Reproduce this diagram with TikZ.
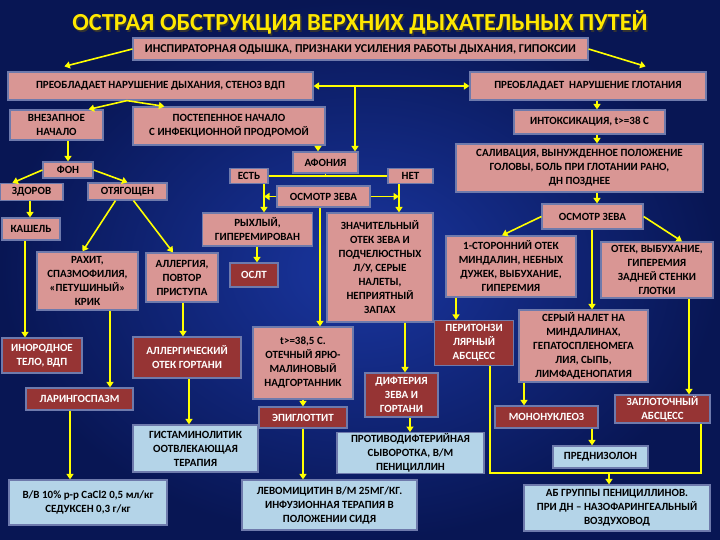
\documentclass[tikz,border=0pt]{standalone}
\usepackage{fontspec}
\setmainfont{Carlito}
\usetikzlibrary{arrows.meta,calc}

\definecolor{bgin}{RGB}{26,54,160}
\definecolor{bgout}{RGB}{8,22,84}
\definecolor{pinkc}{RGB}{217,150,148}
\definecolor{redc}{RGB}{150,52,52}
\definecolor{bluec}{RGB}{180,212,232}
\definecolor{bordc}{RGB}{110,122,172}
\definecolor{arrc}{RGB}{255,255,0}
\definecolor{titley}{RGB}{255,232,0}

\begin{document}
\begin{tikzpicture}[x=1pt,y=-1pt,
  box/.style={draw=bordc, line width=1.2pt, inner sep=1pt, align=center,
              font=\bfseries\fontsize{11}{14}\selectfont},
  pbox/.style={box, fill=pinkc, text=black},
  rbox/.style={box, fill=redc, text=white},
  bbox/.style={box, fill=bluec, text=black},
  ar/.style={draw=arrc, line width=1.6pt, -{Triangle[length=5.5pt,width=7pt]}},
  dar/.style={draw=arrc, line width=1.6pt, {Triangle[length=5.5pt,width=7pt]}-{Triangle[length=5.5pt,width=7pt]}},
  ln/.style={draw=arrc, line width=1.6pt},
]
\useasboundingbox (0,0) rectangle (720,540);
\shade[inner color=bgin, outer color=bgout] (0,0) rectangle (720,540);

% x positions of vertical connectors
\foreach \xx in {25,30,70,110,127,183,189,257,264,303,318,320,355,399,405,410,456,490,524,592,597,609,689,701}
  {\coordinate (v\xx) at (\xx,0);}

% title
\node[text=black!80, font=\bfseries\fontsize{24.5}{28}\selectfont] (titleshadow) at (361.5,24) {ОСТРАЯ ОБСТРУКЦИЯ ВЕРХНИХ ДЫХАТЕЛЬНЫХ ПУТЕЙ};
\node[text=titley, font=\bfseries\fontsize{24.5}{28}\selectfont] (title) at (360,22.5) {ОСТРАЯ ОБСТРУКЦИЯ ВЕРХНИХ ДЫХАТЕЛЬНЫХ ПУТЕЙ};

% top level
\node[pbox, minimum width=455pt, minimum height=22pt, font=\bfseries\fontsize{12}{14}\selectfont] (A) at (360.5,49) {ИНСПИРАТОРНАЯ ОДЫШКА, ПРИЗНАКИ УСИЛЕНИЯ РАБОТЫ ДЫХАНИЯ, ГИПОКСИИ};
\node[pbox, minimum width=305pt, minimum height=28pt] (B) at (160.5,86) {ПРЕОБЛАДАЕТ НАРУШЕНИЕ ДЫХАНИЯ, СТЕНОЗ ВДП};
\node[pbox, minimum width=236pt, minimum height=28pt] (C) at (588,86) {ПРЕОБЛАДАЕТ\ \ НАРУШЕНИЕ ГЛОТАНИЯ};

% left branch
\node[pbox, minimum width=93pt, minimum height=30pt] (vnezap) at (56.5,125) {ВНЕЗАПНОЕ\\НАЧАЛО};
\node[pbox, minimum width=192pt, minimum height=38pt] (postep) at (229,126) {ПОСТЕПЕННОЕ НАЧАЛО\\С ИНФЕКЦИОННОЙ ПРОДРОМОЙ};
\node[pbox, minimum width=50pt, minimum height=16pt] (fon) at (68,170) {ФОН};
\node[pbox, minimum width=63pt, minimum height=17pt] (zdorov) at (31.5,192) {ЗДОРОВ};
\node[pbox, minimum width=79pt, minimum height=17pt] (otyag) at (127.5,191.5) {ОТЯГОЩЕН};
\node[pbox, minimum width=58pt, minimum height=22pt] (kashel) at (31,229) {КАШЕЛЬ};
\node[pbox, minimum width=101pt, minimum height=58pt] (rahit) at (87.5,281) {РАХИТ,\\СПАЗМОФИЛИЯ,\\«ПЕТУШИНЫЙ»\\КРИК};
\node[pbox, minimum width=72pt, minimum height=49pt] (allerg) at (182,277.5) {АЛЛЕРГИЯ,\\ПОВТОР\\ПРИСТУПА};
\node[rbox, minimum width=80pt, minimum height=35pt] (inorod) at (42,355.5) {ИНОРОДНОЕ\\ТЕЛО, ВДП};
\node[rbox, minimum width=108pt, minimum height=41pt] (allotek) at (187,357.5) {АЛЛЕРГИЧЕСКИЙ\\ОТЕК ГОРТАНИ};
\node[rbox, minimum width=107pt, minimum height=22pt] (laring) at (79.5,399) {ЛАРИНГОСПАЗМ};
\node[bbox, minimum width=125pt, minimum height=47pt] (gistam) at (195.5,448.5) {ГИСТАМИНОЛИТИК\\ООТВЛЕКАЮЩАЯ\\ТЕРАПИЯ};
\node[bbox, minimum width=158pt, minimum height=45pt] (vv) at (88,502.5) {В/В 10\% р-р CaCl2 0,5 мл/кг\\СЕДУКСЕН 0,3 г/кг};

% middle branch
\node[pbox, minimum width=65pt, minimum height=21pt] (afon) at (325.5,162.5) {АФОНИЯ};
\node[pbox, minimum width=38pt, minimum height=15pt] (est) at (249,176) {ЕСТЬ};
\node[pbox, minimum width=45pt, minimum height=15pt] (net) at (410.5,176) {НЕТ};
\node[pbox, minimum width=93pt, minimum height=21pt] (osm1) at (323.5,196.5) {ОСМОТР ЗЕВА};
\node[pbox, minimum width=110pt, minimum height=33pt] (ryhl) at (257.5,229.5) {РЫХЛЫЙ,\\ГИПЕРЕМИРОВАН};
\node[rbox, minimum width=48pt, minimum height=24pt] (oslt) at (254,275) {ОСЛТ};
\node[pbox, minimum width=106pt, minimum height=109pt] (znach) at (380,267.5) {ЗНАЧИТЕЛЬНЫЙ\\ОТЕК ЗЕВА И\\ПОДЧЕЛЮСТНЫХ\\Л/У, СЕРЫЕ\\НАЛЕТЫ,\\НЕПРИЯТНЫЙ\\ЗАПАХ};
\node[pbox, minimum width=100pt, minimum height=72pt] (temp) at (303,363) {t>=38,5 С.\\ОТЕЧНЫЙ ЯРЮ-\\МАЛИНОВЫЙ\\НАДГОРТАННИК};
\node[rbox, minimum width=88pt, minimum height=21pt] (epig) at (303,417.5) {ЭПИГЛОТТИТ};
\node[rbox, minimum width=73pt, minimum height=44pt] (difter) at (401.5,395) {ДИФТЕРИЯ\\ЗЕВА И\\ГОРТАНИ};
\node[bbox, minimum width=147pt, minimum height=40pt] (protiv) at (410.5,453) {ПРОТИВОДИФТЕРИЙНАЯ\\СЫВОРОТКА, В/М\\ПЕНИЦИЛЛИН};
\node[bbox, minimum width=175pt, minimum height=50pt] (levom) at (329.5,505) {ЛЕВОМИЦИТИН В/М 25МГ/КГ.\\ИНФУЗИОННАЯ ТЕРАПИЯ В\\ПОЛОЖЕНИИ СИДЯ};

% right branch
\node[pbox, minimum width=151pt, minimum height=24pt] (intox) at (589.5,122) {ИНТОКСИКАЦИЯ, t>=38 С};
\node[pbox, minimum width=247pt, minimum height=48pt] (saliv) at (579.5,168) {САЛИВАЦИЯ, ВЫНУЖДЕННОЕ ПОЛОЖЕНИЕ\\ГОЛОВЫ, БОЛЬ ПРИ ГЛОТАНИИ РАНО,\\ДН ПОЗДНЕЕ};
\node[pbox, minimum width=101pt, minimum height=25pt] (osm2) at (592.5,216.5) {ОСМОТР ЗЕВА};
\node[pbox, minimum width=130pt, minimum height=61pt] (odnostor) at (511,266.5) {1-СТОРОННИЙ ОТЕК\\МИНДАЛИН, НЕБНЫХ\\ДУЖЕК, ВЫБУХАНИЕ,\\ГИПЕРЕМИЯ};
\node[pbox, minimum width=112pt, minimum height=56pt] (otekzad) at (657,270) {ОТЕК, ВЫБУХАНИЕ,\\ГИПЕРЕМИЯ\\ЗАДНЕЙ СТЕНКИ\\ГЛОТКИ};
\node[rbox, minimum width=79pt, minimum height=45pt] (peritonz) at (474,343) {ПЕРИТОНЗИ\\ЛЯРНЫЙ\\АБСЦЕСС};
\node[pbox, minimum width=129pt, minimum height=72pt] (seryi) at (583.5,346) {СЕРЫЙ НАЛЕТ НА\\МИНДАЛИНАХ,\\ГЕПАТОСПЛЕНОМЕГА\\ЛИЯ, СЫПЬ,\\ЛИМФАДЕНОПАТИЯ};
\node[rbox, minimum width=103pt, minimum height=22pt] (mononukl) at (546.5,417) {МОНОНУКЛЕОЗ};
\node[rbox, minimum width=95pt, minimum height=28pt] (zaglot) at (662.5,409) {ЗАГЛОТОЧНЫЙ\\АБСЦЕСС};
\node[bbox, minimum width=95pt, minimum height=22pt] (prednis) at (600.5,457) {ПРЕДНИЗОЛОН};
\node[bbox, minimum width=186pt, minimum height=46pt] (abgr) at (617,508) {АБ ГРУППЫ ПЕНИЦИЛЛИНОВ.\\ПРИ ДН – НАЗОФАРИНГЕАЛЬНЫЙ\\ВОЗДУХОВОД};

% ---------- connectors ----------
\draw[ar] (A.west) -- ($(B.north west)+(57,-5)$);
\draw[ar] (A.east) -- ($(C.north east)+(-61,-5)$);
\draw[dar] (B.east) -- (C.west);
\draw[ar] (B.east -| v355) -- (afon.north -| v355);

\coordinate (bs) at (B.south -| v127);
\draw[ar] (bs) -- ($(vnezap.north east)+(-15,0)$);
\draw[ar] (bs) -- ($(postep.north west)+(32,0)$);
\draw[ar] (vnezap.south -| fon.north) -- (fon.north);
\draw[ar] (fon.west) -- ($(zdorov.north west)+(13,0)$);
\draw[ar] (fon.east) -- (otyag.north);
\draw[ar] (zdorov.south -| v30) -- (kashel.north -| v30);
\draw[ar] ($(otyag.south)+(-12,0)$) -- ($(rahit.north)+(-5,0)$);
\draw[ar] ($(otyag.south)+(6,0)$) -- ($(allerg.north)+(-9,0)$);
\draw[ar] (kashel.south -| v25) -- (inorod.north -| v25);
\draw[ar] (rahit.south -| v110) -- (laring.north -| v110);
\draw[ar] (allerg.south -| v183) -- (allotek.north -| v183);
\draw[ar] (allotek.south -| v189) -- (gistam.north -| v189);
\draw[ar] (laring.south -| v70) -- (vv.north -| v70);

\draw[ar] (postep.south -| v318) -- (afon.north -| v318);
\draw[ln] (afon.south) -- (afon.south |- est.east);
\draw[ln] (est.east) -- (net.west);
\draw[ar] (est.south -| v264) -- (ryhl.north -| v264);
\draw[ar] (osm1.west) -- (osm1.west -| v264);
\draw[ar] (net.south -| v399) -- (znach.north -| v399);
\draw[ar] (osm1.east) -- (osm1.east -| v399);
\draw[ar] (osm1.south -| v320) -- (temp.north -| v320);
\draw[ar] (ryhl.south -| v257) -- (oslt.north -| v257);
\draw[ar] (znach.south -| v405) -- (difter.north -| v405);
\draw[ar] (temp.south -| v303) -- (epig.north -| v303);
\draw[ar] (epig.south -| v303) -- (levom.north -| v303);
\draw[ar] (difter.south -| v410) -- (protiv.north -| v410);

\draw[ar] (C.south -| v597) -- (intox.north -| v597);
\draw[ar] (intox.south -| v597) -- (saliv.north -| v597);
\draw[ar] (saliv.south -| v597) -- (osm2.north -| v597);
\draw[ar] (osm2.west) -- ($(odnostor.north)+(-9,0)$);
\draw[ar] (osm2.east) -- ($(otekzad.north)+(25,0)$);
\draw[ar] (osm2.south -| v592) -- (seryi.north -| v592);
\draw[ar] (odnostor.south -| v456) -- (peritonz.north -| v456);
\draw[ar] (seryi.south -| v524) -- (mononukl.north -| v524);
\draw[ar] (otekzad.south -| v689) -- (zaglot.north -| v689);
\draw[ar] (mononukl.south -| v592) -- (prednis.north -| v592);
\coordinate (bot) at (490,473);
\draw[ln] (peritonz.south -| v490) |- (bot) -| (zaglot.south -| v701);
\draw[ar] (bot -| v609) -- (abgr.north -| v609);
\end{tikzpicture}
\end{document}
